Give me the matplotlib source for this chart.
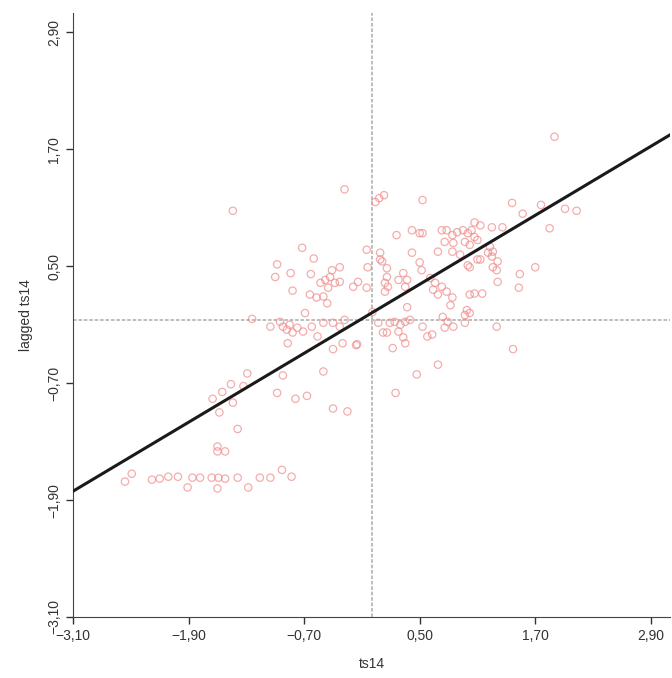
import numpy as np
import matplotlib
matplotlib.use("Agg")
import matplotlib.pyplot as plt

# standardised values (x) and their spatial lag (y)
ts14 = [
    -2.56, -2.49, -2.28, -2.20, -2.11, -2.01, -1.86, -1.78, -1.66, -1.59,
    -1.52, -1.39, -1.28, -1.16, -1.05, -0.93, -0.83, -1.91, -1.60, -1.60,
    -1.60, -1.52, -1.39, -1.58, -1.65, -1.44, -1.55, -1.46, -1.33, -1.29,
    -0.92, -0.98, -0.79, -0.67, -0.50, -0.40, -0.25, -0.87, -0.40, -0.30,
    -0.16, -1.44, -0.72, -0.98, -1.00, -0.84, -0.82, -1.24, -1.05, -0.95,
    -0.92, -0.88, -0.85, -0.82, -0.77, -0.71, -0.60, -0.63, -0.41, -0.33,
    -0.53, -0.48, -0.43, -0.38, -0.33, -0.45, -0.19, -0.14, -0.64, -0.57,
    -0.50, -0.46, -0.69, -0.62, -0.56, -0.50, -0.40, -0.33, -0.28, -0.15,
    -0.28, 0.04, 0.08, 0.13, -0.05, -0.04, 0.09, 0.11, 0.16, 0.14,
    -0.05, 0.07, 0.12, 0.01, 0.53, 0.26, 0.42, 0.50, 0.53, 0.73,
    0.78, 0.84, 0.89, 0.95, 1.00, 1.07, 0.76, 0.85, 0.97, 1.02,
    1.10, 0.09, 0.42, 0.69, 0.84, 0.92, 1.00, 1.10, 0.50, 0.52,
    0.33, 0.37, 0.28, 0.35, 0.16, 0.17, 0.14, 0.61, 0.66, 0.64,
    0.73, 0.78, 0.69, 0.84, 0.82, 1.02, 0.37, 0.99, 0.97, 0.74,
    0.79, 0.85, 0.76, 0.19, 0.24, 0.30, 0.35, 0.40, 0.16, 0.28,
    0.33, 0.35, 0.53, 0.58, 0.63, 0.97, 0.22, 0.69, 0.47, 0.25,
    1.90, 1.46, 1.76, 2.01, 2.13, 1.57, 1.13, 1.04, 1.07, 1.25,
    1.36, 1.85, 1.23, 1.26, 1.21, 1.25, 1.13, 1.31, 1.26, 1.30,
    1.02, 1.70, 1.54, 1.31, 1.53, 1.07, 1.15, 1.02, 1.30, 1.47,
]
lagged_ts14 = [
    -1.71, -1.63, -1.69, -1.68, -1.66, -1.66, -1.67, -1.67, -1.67, -1.67,
    -1.68, -1.67, -1.77, -1.67, -1.67, -1.59, -1.66, -1.77, -1.78, -1.35,
    -1.40, -1.40, -1.17, -1.00, -0.86, -0.90, -0.79, -0.71, -0.73, -0.60,
    -0.62, -0.80, -0.86, -0.83, -0.58, -0.96, -0.99, -0.29, -0.35, -0.29,
    -0.31, 1.07, 0.69, 0.52, 0.39, 0.43, 0.25, -0.04, -0.12, -0.07,
    -0.12, -0.15, -0.10, -0.18, -0.13, -0.17, 0.58, 0.42, 0.46, 0.49,
    0.33, 0.36, 0.39, 0.33, 0.34, 0.28, 0.29, 0.34, 0.21, 0.18,
    0.19, 0.12, 0.02, -0.12, -0.22, -0.08, -0.08, -0.12, -0.05, -0.30,
    1.29, 1.16, 1.20, 1.23, 0.67, 0.49, 0.64, 0.55, 0.48, 0.33,
    0.28, -0.08, -0.18, 0.03, 1.18, 0.82, 0.87, 0.84, 0.84, 0.87,
    0.87, 0.82, 0.85, 0.87, 0.84, 0.95, 0.75, 0.74, 0.75, 0.72,
    0.77, 0.57, 0.64, 0.65, 0.65, 0.62, 0.51, 0.57, 0.54, 0.46,
    0.43, 0.36, 0.36, 0.29, 0.39, 0.29, 0.24, 0.38, 0.33, 0.26,
    0.29, 0.24, 0.21, 0.18, 0.10, 0.21, 0.08, 0.05, 0.00, -0.02,
    -0.07, -0.12, -0.13, -0.08, -0.07, -0.10, -0.07, -0.05, -0.18, -0.17,
    -0.23, -0.29, -0.12, -0.22, -0.20, -0.08, -0.34, -0.51, -0.61, -0.80,
    1.83, 1.15, 1.13, 1.09, 1.07, 1.04, 0.92, 0.87, 0.80, 0.90,
    0.90, 0.89, 0.70, 0.65, 0.64, 0.60, 0.57, 0.55, 0.49, 0.46,
    0.49, 0.49, 0.42, 0.34, 0.28, 0.22, 0.22, 0.02, -0.12, -0.35,
]
intercept, slope = 0.02, 0.59
x_mean, lag_mean = 0.0, -0.05
ticks = [-3.10, -1.90, -0.70, 0.50, 1.70, 2.90]

def fmt(v):
    return ("%.2f" % v).replace(".", ",").replace("-", "\u2212")

plt.rcParams["font.family"] = ["Liberation Sans", "DejaVu Sans"]
fig = plt.figure(figsize=(6.72, 6.78), dpi=100)
ax = fig.add_axes([73 / 672, 61 / 678, 597 / 672, 604 / 678])

ax.axvline(x_mean, color="#b8b8b8", lw=1.3, ls=(0, (2, 1)), zorder=1)
ax.axhline(lag_mean, color="#b8b8b8", lw=1.3, ls=(0, (2, 1)), zorder=1)

ax.scatter(ts14, lagged_ts14, s=28, facecolors="none", edgecolors="#f08a8a",
           linewidths=0.9, alpha=0.7, zorder=2)

xs = np.array([-3.1, 3.1])
ax.plot(xs, intercept + slope * xs, color="#1a1a1a", lw=2.2, zorder=3)

ax.set_xlim(-3.1, 3.1)
ax.set_ylim(-3.1, 3.1)
ax.set_xticks(ticks)
ax.set_yticks(ticks)
ax.set_xticklabels([fmt(t) for t in ticks])
ax.set_yticklabels([fmt(t) for t in ticks], rotation=90, va="center")
ax.tick_params(colors="#333333", labelsize=10, length=5, width=1)
for s in ["top", "right"]:
    ax.spines[s].set_visible(False)
for s in ["left", "bottom"]:
    ax.spines[s].set_color("#444444")
ax.set_xlabel("ts14", fontsize=10, color="#333333", labelpad=10)
ax.set_ylabel("lagged ts14", fontsize=10, color="#333333", labelpad=10)

fig.savefig("out.png", dpi=100)
